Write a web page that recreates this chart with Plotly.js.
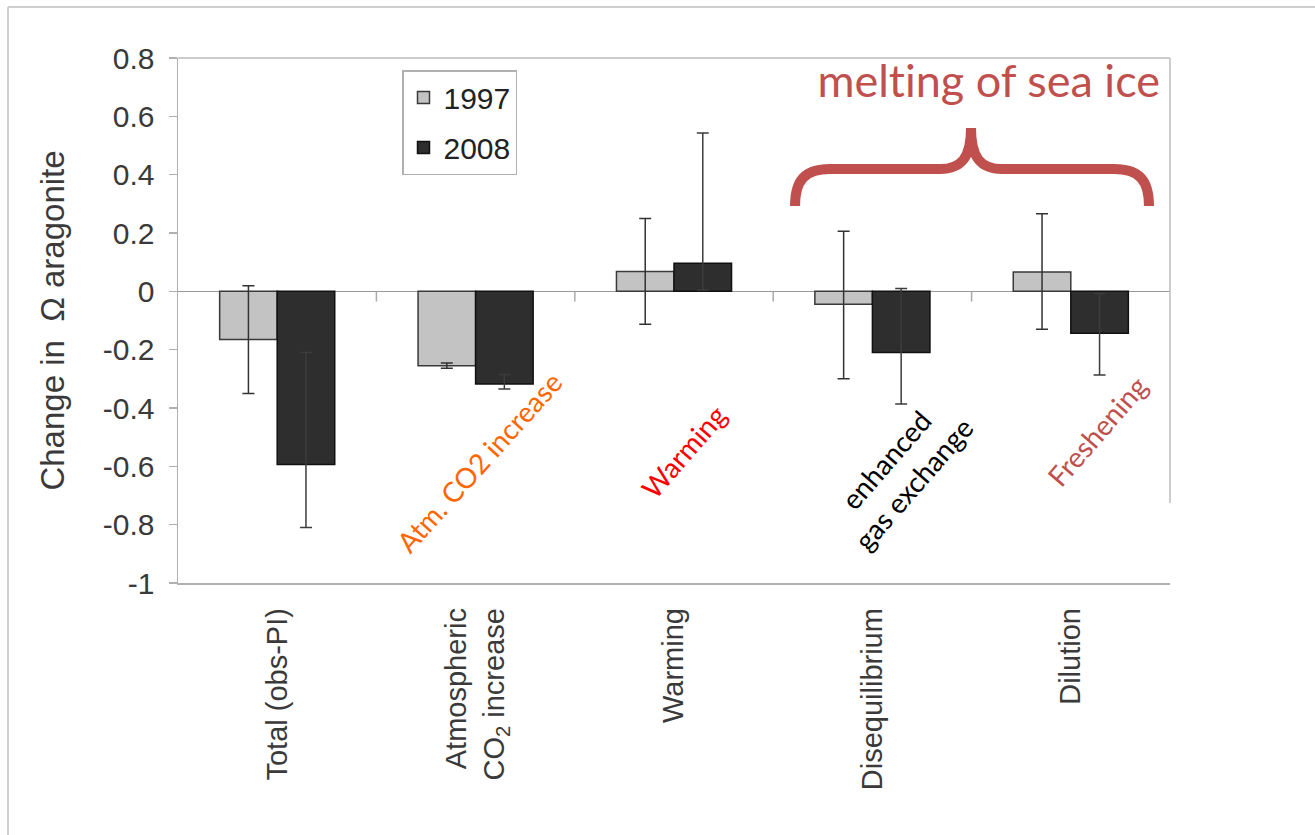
<!DOCTYPE html>
<html>
<head>
<meta charset="utf-8">
<script src="https://cdn.plot.ly/plotly-3.0.1.min.js"></script>
<style>
  html, body { margin: 0; padding: 0; background: #ffffff; }
  #chart { width: 1315px; height: 835px; }
  #chart text { font-variant-ligatures: none; font-feature-settings: "liga" 0; }
</style>
</head>
<body>
<div id="chart"></div>
<script>
// ---- data ----
const categories = ['Total (obs-PI)', 'Atmospheric<br>CO<sub>2</sub> increase', 'Warming', 'Disequilibrium', 'Dilution'];
const seriesNames = ['1997', '2008'];
const values1997 = [-0.165, -0.255, 0.068, -0.044, 0.066];
const errPlus1997 = [0.184, 0.009, 0.182, 0.250, 0.200];
const errMinus1997 = [0.185, 0.009, 0.181, 0.256, 0.196];
const values2008 = [-0.594, -0.318, 0.096, -0.210, -0.144];
const errPlus2008 = [0.384, 0.033, 0.447, 0.220, 0.137];
const errMinus2008 = [0.216, 0.017, 0.091, 0.176, 0.143];
const yTickVals = [0.8, 0.6, 0.4, 0.2, 0, -0.2, -0.4, -0.6, -0.8, -1];
const yTickText = ['0.8', '0.6', '0.4', '0.2', '0', '-0.2', '-0.4', '-0.6', '-0.8', '-1'];
const yTitle = 'Change in  \u03A9 aragonite';
const bracketLabel = 'melting of sea ice';
const noteLabels = ['Atm. CO2 increase', 'Warming', 'enhanced<br>gas exchange', 'Freshening'];

// ---- layout geometry (pixels) ----
const W = 1315, H = 835;
const M = { l: 178, r: 145, t: 58, b: 252 };
const PW = W - M.l - M.r, PH = H - M.t - M.b;
const px = x => (x - M.l) / PW;
const py = y => (H - M.b - y) / PH;
const P = (x, y) => px(x).toFixed(4) + ',' + py(y).toFixed(4);

const sans = 'Liberation Sans, Arial, sans-serif';
const noteFont = 'Lato, Open Sans, sans-serif';

const traces = [
  {
    type: 'bar', name: seriesNames[0], x: categories, y: values1997,
    legendgroup: 'a',
    marker: { color: '#c3c3c3', line: { color: '#3a3a3a', width: 1.5 } },
    error_y: { type: 'data', symmetric: false, array: errPlus1997, arrayminus: errMinus1997,
               color: '#333333', thickness: 1.5, width: 6 }
  },
  {
    type: 'bar', name: seriesNames[1], x: categories, y: values2008,
    legendgroup: 'b',
    marker: { color: '#2e2e2e', line: { color: '#111111', width: 1.5 } },
    error_y: { type: 'data', symmetric: false, array: errPlus2008, arrayminus: errMinus2008,
               color: '#3c3c3c', thickness: 1.5, width: 6 }
  }
];

const shapes = [];
// zero-line category boundary ticks
for (let i = 0; i < categories.length - 1; i++) {
  shapes.push({ type: 'line', xref: 'x', yref: 'y', x0: i + 0.5, x1: i + 0.5, y0: 0, y1: -0.035,
                line: { color: '#aaaaaa', width: 1.5 } });
}
// plot frame top and right
shapes.push({ type: 'line', xref: 'paper', yref: 'paper', x0: 0, x1: 1, y0: 1, y1: 1,
              line: { color: '#bdbdbd', width: 1.5 } });
shapes.push({ type: 'line', xref: 'paper', yref: 'paper', x0: 1, x1: 1, y0: py(503), y1: 1,
              line: { color: '#bdbdbd', width: 1.5 } });
// outer slide frame
shapes.push({ type: 'line', xref: 'paper', yref: 'paper', x0: px(8), x1: px(8), y0: py(835), y1: py(7),
              line: { color: '#cfcfcf', width: 2 } });
shapes.push({ type: 'line', xref: 'paper', yref: 'paper', x0: px(8), x1: px(1315), y0: py(7), y1: py(7),
              line: { color: '#cfcfcf', width: 2 } });
// curly brace
shapes.push({
  type: 'path', xref: 'paper', yref: 'paper',
  path: 'M ' + P(795, 206) + ' C ' + P(795, 180) + ' ' + P(805, 169) + ' ' + P(830, 169) +
        ' L ' + P(940, 169) + ' C ' + P(961, 169) + ' ' + P(971, 158) + ' ' + P(971, 128) +
        ' C ' + P(971, 158) + ' ' + P(981, 169) + ' ' + P(1002, 169) +
        ' L ' + P(1114, 169) + ' C ' + P(1139, 169) + ' ' + P(1149, 180) + ' ' + P(1149, 206),
  line: { color: '#c0504d', width: 10 }
});

const note = (text, x, y, angle, color, size) => ({
  text: text, x: px(x), y: py(y), xref: 'paper', yref: 'paper', showarrow: false,
  xanchor: 'center', yanchor: 'middle', textangle: angle,
  font: { family: noteFont, size: size, color: color }
});

const annotations = [
  note(bracketLabel, 988, 80, 0, '#c0504d', 45),
  note(noteLabels[0], 479, 462, -48, '#ff6600', 28),
  note(noteLabels[1], 683, 452, -49, '#ff0000', 28),
  note(noteLabels[2], 899, 472, -49, '#000000', 28),
  note(noteLabels[3], 1097, 431, -49, '#c0504d', 28)
];

const layout = {
  width: W, height: H,
  margin: M,
  paper_bgcolor: '#ffffff', plot_bgcolor: '#ffffff',
  barmode: 'group', bargap: 0.42, bargroupgap: 0,
  showlegend: true,
  legend: {
    x: px(402), y: py(70), xanchor: 'left', yanchor: 'top',
    bgcolor: '#ffffff', bordercolor: '#b0b0b0', borderwidth: 1.5,
    font: { family: sans, size: 30, color: '#222222' },
    traceorder: 'grouped', tracegroupgap: 8
  },
  xaxis: {
    type: 'category', categoryorder: 'array', categoryarray: categories,
    range: [-0.5, categories.length - 0.5],
    showline: true, linecolor: '#b0b0b0', linewidth: 1.5,
    ticks: '', showgrid: false, zeroline: false,
    tickangle: -90, tickfont: { family: sans, size: 29, color: '#3a3a3a' }, ticklabelstandoff: 12
  },
  yaxis: {
    range: [-1, 0.8], tickmode: 'array', tickvals: yTickVals, ticktext: yTickText,
    showline: true, linecolor: '#b0b0b0', linewidth: 1.5,
    ticks: 'outside', ticklen: 8, tickcolor: '#b0b0b0', tickwidth: 1.5,
    showgrid: false, zeroline: true, zerolinecolor: '#9a9a9a', zerolinewidth: 1.5,
    tickfont: { family: sans, size: 30, color: '#3a3a3a' }, ticklabelstandoff: 8,
    title: { text: yTitle, font: { family: sans, size: 33, color: '#3a3a3a' }, standoff: 28 }
  },
  shapes: shapes,
  annotations: annotations
};

Plotly.newPlot('chart', traces, layout, { displayModeBar: false, staticPlot: true });
</script>
</body>
</html>
